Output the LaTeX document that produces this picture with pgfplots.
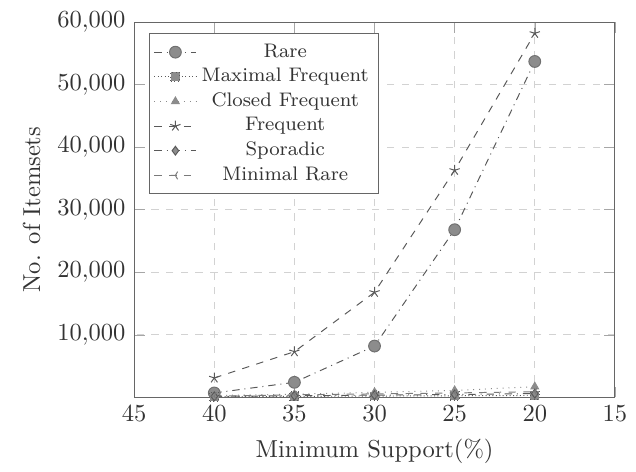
\documentclass[border=0pt]{standalone}
\usepackage{pgfplots}
\pgfplotsset{compat=1.18}
\definecolor{ln}{gray}{0.35}
\definecolor{fl}{gray}{0.55}
\begin{document}
\begin{tikzpicture}
\begin{axis}[
  scale only axis, width=196pt, height=153pt,
  x dir=reverse, xmin=15, xmax=45, ymin=0, ymax=60000,
  xtick={15,20,...,45}, ytick={10000,20000,...,60000},
  scaled y ticks=false,
  /pgf/number format/1000 sep={\mathord{,}},
  grid=major, major grid style={dashed, gray!35},
  axis line style={gray!80!black},
  tick style={gray!70},
  xlabel={Minimum Support(\%)}, ylabel={No. of Itemsets},
  every axis label/.append style={text=black!80},
  ticklabel style={text=black!80},
  legend pos=north west,
  legend cell align=center,
  legend style={draw=gray!80!black, font=\footnotesize, text=black!80, row sep=-1pt, inner sep=2pt},
  every axis plot/.append style={ln, thin, mark size=1.8pt, mark options={fill=fl}},
]
\addplot[ln, dashdotted, mark=*, mark options={solid, fill=fl, draw=fl!80!black}, mark size=2.4pt] coordinates {(40,700) (35,2400) (30,8200) (25,26800) (20,53700)};
\addlegendentry{Rare}
\addplot[ln, densely dotted, mark=square*, mark options={densely dotted, fill=fl}] coordinates {(40,100) (35,150) (30,200) (25,250) (20,300)};
\addlegendentry{Maximal Frequent}
\addplot[ln!70, dotted, mark=triangle*, mark options={solid, fill=fl, draw=fl}] coordinates {(40,300) (35,500) (30,800) (25,1100) (20,1700)};
\addlegendentry{Closed Frequent}
\addplot[ln, dashed, mark=star, mark options={solid}, mark size=2.2pt] coordinates {(40,3100) (35,7300) (30,16800) (25,36300) (20,58200)};
\addlegendentry{Frequent}
\addplot[ln, dash dot, mark=diamond*, mark options={solid, fill=fl}] coordinates {(40,150) (35,250) (30,350) (25,450) (20,600)};
\addlegendentry{Sporadic}
\addplot[ln!80, dashed, mark=Mercedes star, mark options={solid, rotate=90}] coordinates {(40,200) (35,400) (30,550) (25,700) (20,900)};
\addlegendentry{Minimal Rare}
\end{axis}
\path (current axis.south west) ++(-54.7pt,-25.3pt) coordinate (bl);
\path (current axis.north east) ++(8.6pt,9pt) coordinate (tr);
\path (bl) rectangle (tr);
\end{tikzpicture}
\end{document}
